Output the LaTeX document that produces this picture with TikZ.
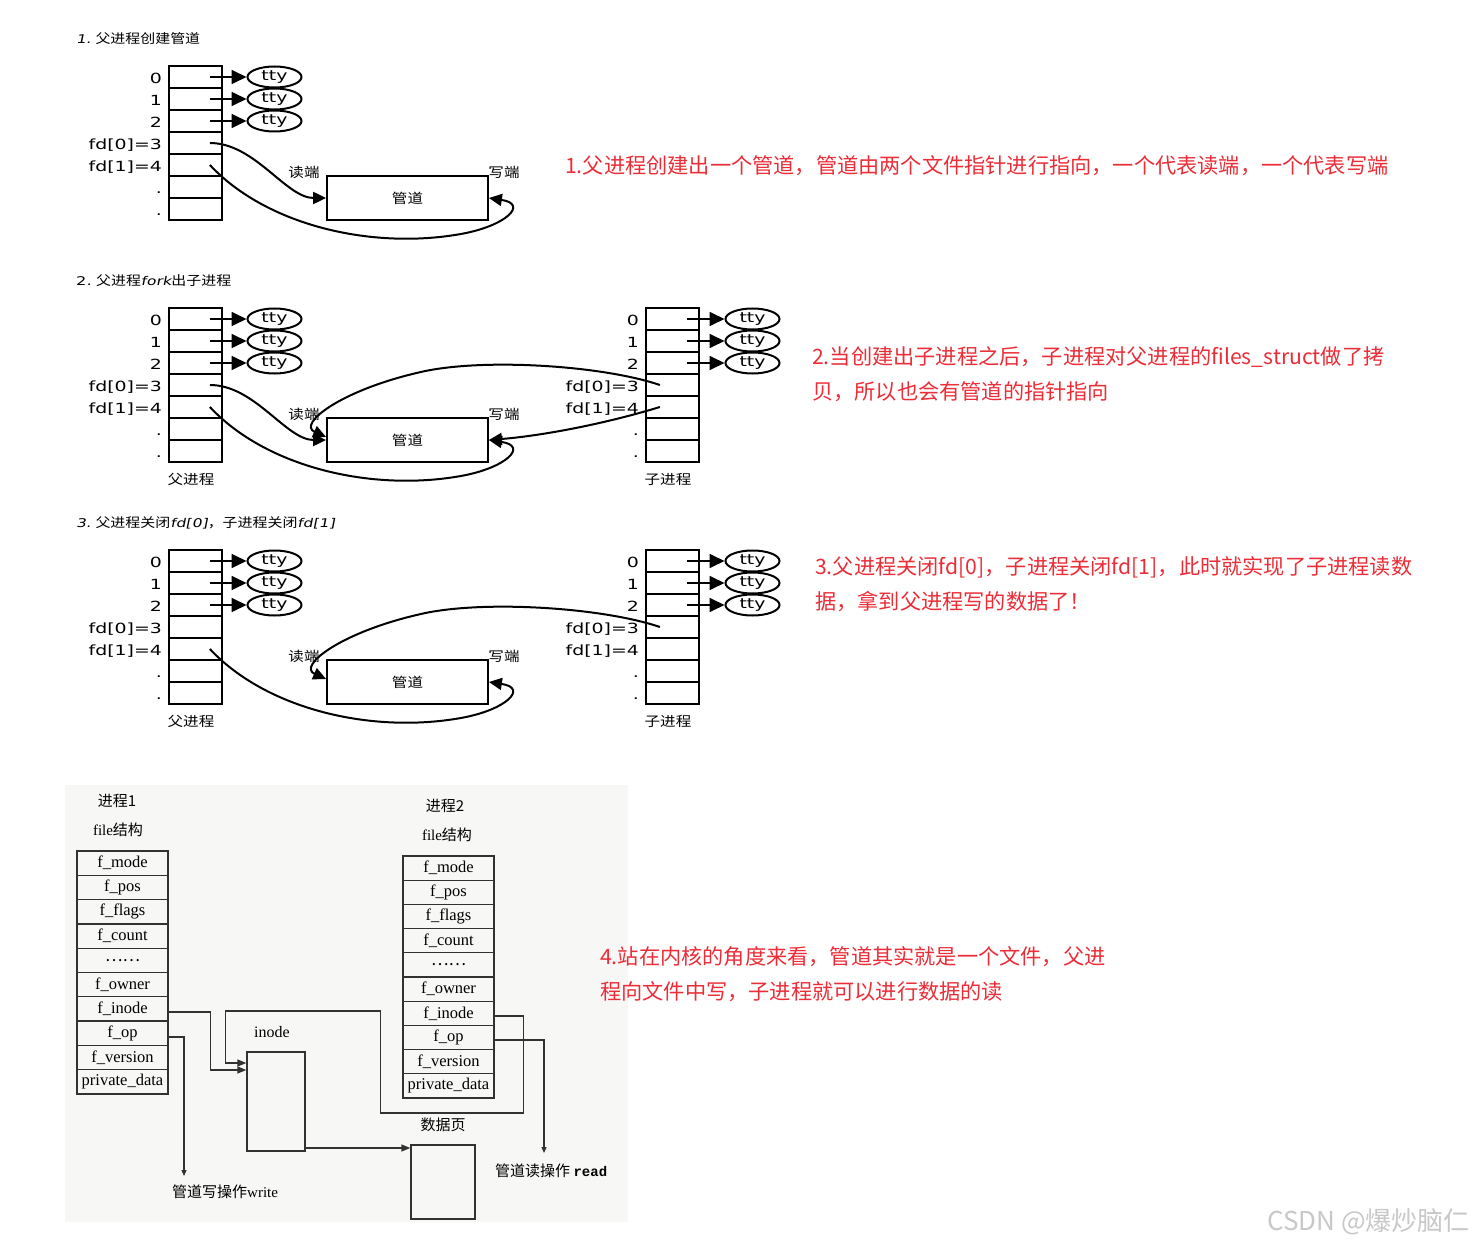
\documentclass[tikz,border=0pt]{standalone}
\usepackage{fontspec}
\usetikzlibrary{shapes.geometric,arrows.meta}
\setmainfont{DejaVu Sans}
\newfontfamily\dv[FakeStretch=1.35]{DejaVu Sans}
\newfontfamily\dvo[FakeStretch=1.3,FakeSlant=0.2]{DejaVu Sans}
\newfontfamily\cjk{Noto Sans CJK SC}
\newfontfamily\cjkw[FakeStretch=1.15]{Noto Sans CJK SC}
\newfontfamily\lserif{Liberation Serif}
\newfontfamily\lmono{Liberation Mono}
\definecolor{redtxt}{RGB}{236,45,55}
\definecolor{wmgray}{RGB}{200,200,200}
\definecolor{bgdot}{RGB}{247,247,245}
\definecolor{ln}{RGB}{50,50,50}

\newcommand{\fdblock}[4]{%
  \foreach \i/\t in {0/0,1/1,2/2,3/{fd[0]=3},4/{fd[1]=4},5/.,6/.} {%
    \node[fdcell] (#1\i) at (#2,#3+11+22*\i) {};
    \node[fdlbl] (#1l\i) at ([xshift=-6pt,yshift=-6.5pt]#1\i.west) {\t};
  }%
  \foreach \i in {0,1,2} {%
    \node[ttyn] (#1t\i) at (#4,#3+11+22*\i) {tty};
    \draw[ttyarr] ([xshift=-13pt]#1\i.east) -- (#1t\i.west);
  }%
}

\begin{document}
\begin{tikzpicture}[x=1pt,y=-1pt,
  fdcell/.style={draw, line width=1.8pt, minimum width=53pt, minimum height=22pt, inner sep=0pt},
  ttyn/.style={ellipse, draw, line width=2pt, minimum width=54pt, minimum height=21pt, inner sep=0pt, font=\dv\fontsize{14}{14}\selectfont},
  fdlbl/.style={anchor=base east, inner sep=0pt, font=\dv\fontsize{14}{14}\selectfont},
  ttyarr/.style={line width=1.8pt, -{Triangle[length=15pt,width=14pt]}},
  curv/.style={line width=2pt, -{Triangle[length=13pt,width=12pt]}},
  pipen/.style={draw, line width=1.8pt, minimum width=161pt, minimum height=44pt, inner sep=0pt, font=\cjkw\fontsize{13.5}{13.5}\selectfont},
  smallcjk/.style={inner sep=0pt, font=\cjkw\fontsize{13.5}{13.5}\selectfont},
  ttl/.style={anchor=west, inner sep=0pt, font=\cjkw\fontsize{13}{13}\selectfont},
  redline/.style={anchor=base west, inner sep=0pt, text=redtxt, font=\cjk\fontsize{21.2}{21.2}\selectfont},
  ftab/.style={draw=ln, line width=1.3pt, minimum width=91pt, minimum height=24.3pt, inner sep=0pt, font=\lserif\fontsize{16.5}{16.5}\selectfont},
  btxt/.style={inner sep=0pt, font=\cjk\fontsize{15}{15}\selectfont},
  bline/.style={draw=ln, line width=1.3pt},
  barr/.style={bline, -{Triangle[length=9pt,width=7pt]}},
  barrs/.style={bline, -{Triangle[length=6pt,width=5pt]}}
]
\useasboundingbox (0,0) rectangle (1475,1246);
\fill[white] (0,0) rectangle (1475,1246);
\fill[bgdot] (65,785) rectangle (628,1222);

% ---------- Section 1 ----------
\node[ttl] (h1) at (76,39) {{\dvo\fontsize{12}{12}\selectfont 1.} 父进程创建管道};
\fdblock{a}{195.5}{66}{274.5}
\node[pipen] (pa) at (407.5,198) {管道};
\node[smallcjk] (ra) at (304,172) {读端};
\node[smallcjk] (wa) at (504,172) {写端};
\draw[curv] ([xshift=-13pt]a3.east) .. controls +(45,0) and +(-40,0) .. (pa.west);
\draw[curv] ([xshift=-13pt]a4.east) .. controls +(56,60) and +(-90,16) .. ++(251,69)
            .. controls +(45,-8) and +(40,6) .. (pa.east);

% ---------- Section 2 ----------
\node[ttl] (h2) at (76,281) {{\dv\fontsize{12}{12}\selectfont 2.} 父进程{\dvo\fontsize{12}{12}\selectfont fork}出子进程};
\fdblock{b}{195.5}{308}{274.5}
\fdblock{c}{672.5}{308}{752.5}
\node[pipen] (pb) at (407.5,440) {管道};
\node[smallcjk] (rb) at (304,414) {读端};
\node[smallcjk] (wb) at (504,414) {写端};
\node[smallcjk] (nb1) at (191,479) {父进程};
\node[smallcjk] (nb2) at (668,479) {子进程};
\draw[curv] ([xshift=-13pt]b3.east) .. controls +(45,0) and +(-40,0) .. (pb.west);
\draw[curv] ([xshift=-13pt]b4.east) .. controls +(56,60) and +(-90,16) .. ++(251,69)
            .. controls +(45,-8) and +(40,6) .. (pb.east);
\draw[curv] ([xshift=-40pt]c3.east) .. controls +(-59,-20) and +(60,-14) .. ++(-239,-13)
            .. controls +(-80,18) and +(-29,-13) .. ([yshift=3pt]pb.west);
\draw[curv] ([xshift=-40pt]c4.east) .. controls +(-59,18) and +(50,-4) .. (pb.east);

% ---------- Section 3 ----------
\node[ttl] (h3) at (76,523) {{\dvo\fontsize{12}{12}\selectfont 3.} 父进程关闭{\dvo\fontsize{12}{12}\selectfont fd[0]}，子进程关闭{\dvo\fontsize{12}{12}\selectfont fd[1]}};
\fdblock{d}{195.5}{550}{274.5}
\fdblock{e}{672.5}{550}{752.5}
\node[pipen] (pc) at (407.5,682) {管道};
\node[smallcjk] (rc) at (304,656) {读端};
\node[smallcjk] (wc) at (504,656) {写端};
\node[smallcjk] (nc1) at (191,721) {父进程};
\node[smallcjk] (nc2) at (668,721) {子进程};
\draw[curv] ([xshift=-13pt]d4.east) .. controls +(56,60) and +(-90,16) .. ++(251,69)
            .. controls +(45,-8) and +(40,6) .. (pc.east);
\draw[curv] ([xshift=-40pt]e3.east) .. controls +(-59,-20) and +(60,-14) .. ++(-239,-13)
            .. controls +(-80,18) and +(-29,-13) .. ([yshift=3pt]pc.west);

% ---------- Red notes ----------
\node[redline] (n1) at (565,173.5) {1.父进程创建出一个管道，管道由两个文件指针进行指向，一个代表读端，一个代表写端};
\node[redline] (n2a) at (812,364.5) {2.当创建出子进程之后，子进程对父进程的files\_struct做了拷};
\node[redline] (n2b) at (812,399.5) {贝，所以也会有管道的指针指向};
\node[redline] (n3a) at (815,574.5) {3.父进程关闭fd[0]，子进程关闭fd[1]，此时就实现了子进程读数};
\node[redline] (n3b) at (815,609.5) {据，拿到父进程写的数据了！};
\node[redline] (n4a) at (600,964.5) {4.站在内核的角度来看，管道其实就是一个文件，父进};
\node[redline] (n4b) at (600,999.5) {程向文件中写，子进程就可以进行数据的读};

% ---------- Bottom diagram ----------
\node[btxt] (p1n) at (117,801) {进程1};
\node[btxt] (p1f) at (118,830) {{\lserif file}结构};
\node[btxt] (p2n) at (445,806) {进程2};
\node[btxt] (p2f) at (447,835) {{\lserif file}结构};
\foreach \i/\t in {0/f\_mode,1/f\_pos,2/f\_flags,3/f\_count,4/{\cjk ……},5/f\_owner,6/f\_inode,7/f\_op,8/f\_version,9/private\_data} {
  \node[ftab] (q\i) at (122.5,851+12.15+24.3*\i) {\t};
  \node[ftab, minimum height=24.2pt] (r\i) at (448.5,856+12.1+24.2*\i) {\t};
}
\node[draw=ln, line width=1.3pt, minimum width=58pt, minimum height=99pt, inner sep=0pt] (inode) at (276,1101.5) {};
\node[inner sep=0pt, font=\lserif\fontsize{16}{16}\selectfont] (inl) at (272,1032) {inode};
\node[draw=ln, line width=1.3pt, minimum width=64pt, minimum height=74pt, inner sep=0pt] (data) at (443,1182) {};
\node[btxt] (datal) at (443,1125) {数据页};
\coordinate (wend) at (184,1176);
\coordinate (rend) at (544,1153);
\draw[barr] ([yshift=-3pt]q6.east) -- ++(42,0) |- ([yshift=31.5pt]inode.west);
\draw[barr] ([yshift=-2.7pt]r6.east) -- ++(29,0) -- ++(0,97) -- ++(-143,0) -- ++(0,-102) -- ++(-155,0) |- ([yshift=38.5pt]inode.west);
\draw[barr] ([yshift=-46.5pt]inode.east) -- ([yshift=34pt]data.west);
\draw[barrs] ([yshift=-3.7pt]q7.east) -| (wend);
\draw[barrs] ([yshift=-2.5pt]r7.east) -| (rend);
\node[btxt, anchor=west] (wl) at (172,1192) {管道写操作{\lserif write}};
\node[btxt, anchor=west] (rl) at (495,1171) {管道读操作 {\lmono\bfseries\fontsize{14}{14}\selectfont read}};

% ---------- Watermark ----------
\node[anchor=base east, inner sep=0pt, text=wmgray, font=\cjk\fontsize{26}{26}\selectfont] (wm) at (1470,1230) {CSDN @爆炒脑仁};
\end{tikzpicture}
\end{document}
